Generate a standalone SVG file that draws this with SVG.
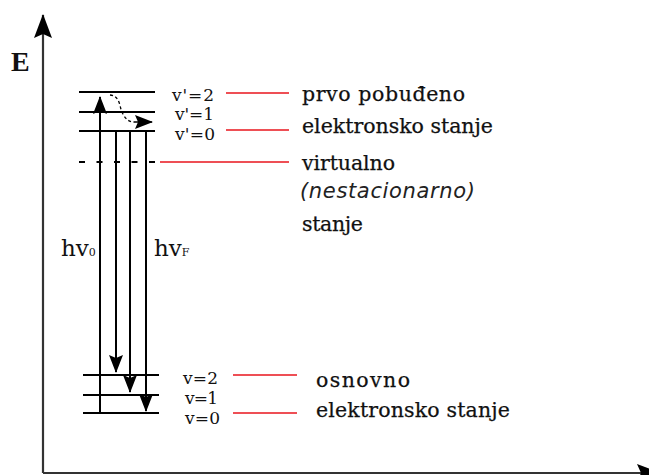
<svg xmlns="http://www.w3.org/2000/svg" width="649" height="475" viewBox="0 0 649 475">
<defs>
<style>
.ax{stroke:#333;stroke-width:2.2;fill:none}
.lv{stroke:#000;stroke-width:2;fill:none}
.vt{stroke:#000;stroke-width:2;fill:none}
.red{stroke:#e8141c;stroke-width:1.6;fill:none}
.lbl{font-family:"DejaVu Serif","Liberation Serif",serif;font-size:17px;fill:#111}
.txt{font-family:"DejaVu Serif","Liberation Serif",serif;font-size:20.5px;fill:#111;stroke:#111;stroke-width:0.25}
.ital{font-family:"DejaVu Sans","Liberation Sans",sans-serif;font-style:italic;font-size:21px;fill:#222}
.hv{font-family:"DejaVu Serif","Liberation Serif",serif;font-size:23px;fill:#111}
.sub{font-family:"DejaVu Serif","Liberation Serif",serif;font-size:11px;fill:#111}
</style>
<marker id="ah" viewBox="0 0 18 14" refX="17" refY="7" markerWidth="18" markerHeight="14" markerUnits="userSpaceOnUse" orient="auto">
<path d="M0,0 L18,7 L0,14 L3,7 Z" fill="#000"/>
</marker>
<marker id="ax" viewBox="0 0 24 18" refX="23" refY="9" markerWidth="24" markerHeight="18" markerUnits="userSpaceOnUse" orient="auto">
<path d="M0,0 L24,9 L0,18 L4,9 Z" fill="#000"/>
</marker>
</defs>
<rect width="649" height="475" fill="#fff"/>

<g id="axes">
<line class="ax" x1="43" y1="473" x2="43" y2="15" marker-end="url(#ax)"/>
<line class="ax" x1="43" y1="473" x2="660" y2="473" marker-end="url(#ax)"/>
<text x="11" y="71" font-family="Liberation Serif,serif" font-weight="bold" font-size="28" fill="#111">E</text>
</g>

<g id="excited-levels">
<line class="lv" x1="79" y1="92" x2="155" y2="92"/>
<line class="lv" x1="79" y1="112" x2="155" y2="112"/>
<line class="lv" x1="79" y1="131" x2="155" y2="131"/>
<text class="lbl" x="172" y="101" textLength="42">v'=2</text>
<text class="lbl" x="175" y="120" textLength="39">v'=1</text>
<text class="lbl" x="175" y="140" textLength="40">v'=0</text>
</g>

<g id="virtual-level">
<line class="lv" x1="79" y1="162" x2="156" y2="162" stroke-dasharray="6,11.5"/>
</g>

<g id="ground-levels">
<line class="lv" x1="83" y1="375" x2="159" y2="375"/>
<line class="lv" x1="83" y1="395" x2="159" y2="395"/>
<line class="lv" x1="83" y1="413" x2="159" y2="413"/>
<text class="lbl" x="183" y="384" textLength="35">v=2</text>
<text class="lbl" x="185" y="404" textLength="33">v=1</text>
<text class="lbl" x="185" y="424" textLength="35">v=0</text>
</g>

<g id="connectors">
<line class="vt" x1="100" y1="413" x2="100" y2="97" marker-end="url(#ah)"/>
<line class="vt" x1="116" y1="131" x2="116" y2="372" marker-end="url(#ah)"/>
<line class="vt" x1="130" y1="131" x2="130" y2="392" marker-end="url(#ah)"/>
<line class="vt" x1="146" y1="131" x2="146" y2="411" marker-end="url(#ah)"/>
<path d="M110,95 C121,96 119,108 123,114 C126,120 130,122 134,122" stroke="#000" stroke-width="1.3" fill="none" stroke-dasharray="3,2.5"/>
<line x1="134" y1="122" x2="152" y2="122" stroke="#000" stroke-width="1.5" marker-end="url(#ah)"/>
<line class="red" x1="226" y1="93" x2="289" y2="93"/>
<line class="red" x1="226" y1="130" x2="289" y2="130"/>
<line class="red" x1="160" y1="162" x2="289" y2="162"/>
<line class="red" x1="233" y1="375" x2="297" y2="375"/>
<line class="red" x1="233" y1="413" x2="297" y2="413"/>
</g>

<g id="label-excited">
<text class="txt" x="302" y="101" textLength="163">prvo pobuđeno</text>
<text class="txt" x="302" y="133" textLength="191">elektronsko stanje</text>
</g>
<g id="label-virtual">
<text class="txt" x="302" y="170" textLength="93">virtualno</text>
<text class="ital" x="300" y="198" textLength="175">(nestacionarno)</text>
<text class="txt" x="302" y="231" textLength="61">stanje</text>
</g>
<g id="label-ground">
<text class="txt" x="316" y="387" textLength="94">osnovno</text>
<text class="txt" x="316" y="417" textLength="194">elektronsko stanje</text>
</g>
<g id="photon-labels">
<text class="hv" x="61" y="256">hv<tspan class="sub">0</tspan></text>
<text class="hv" x="154" y="256">hv<tspan class="sub">F</tspan></text>
</g>
</svg>
